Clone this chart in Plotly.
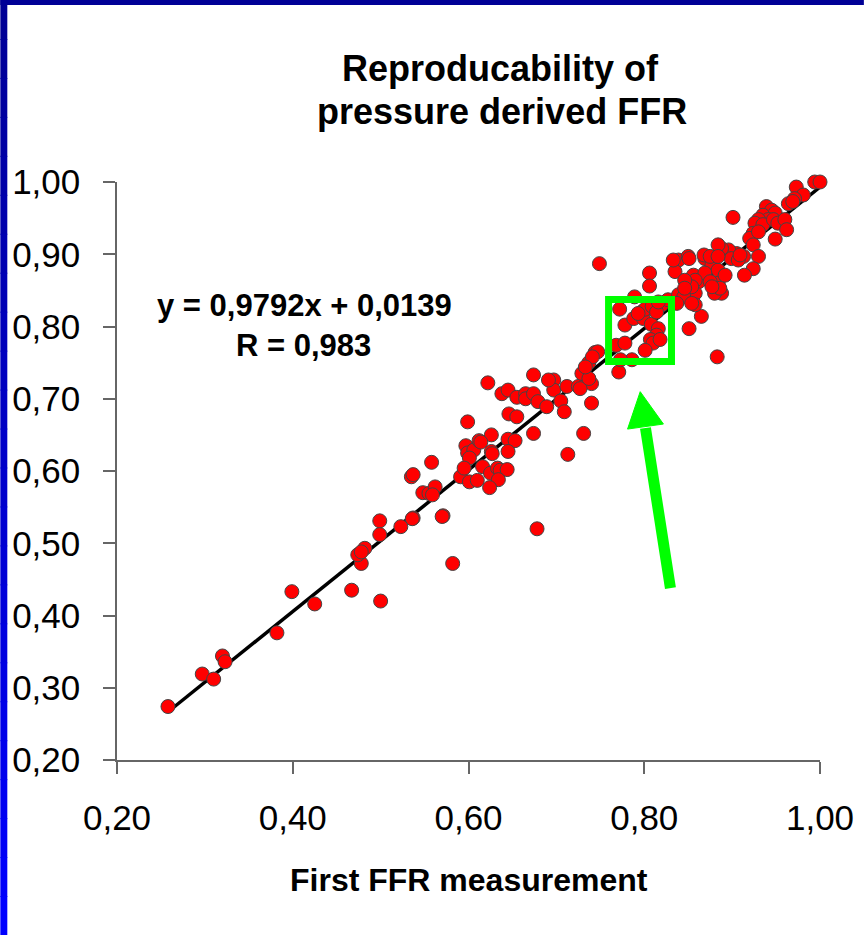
import plotly.graph_objects as go

# ---------------- data ----------------
first_ffr = [
    0.258, 0.297, 0.310, 0.320, 0.323, 0.382, 0.399, 0.425, 0.467, 0.500,
    0.478, 0.474, 0.482, 0.478, 0.499, 0.499, 0.523, 0.537, 0.571, 0.582,
    0.678, 0.535, 0.537, 0.558, 0.548, 0.555, 0.562, 0.559, 0.591, 0.599,
    0.597, 0.599, 0.606, 0.612, 0.601, 0.595, 0.601, 0.610, 0.616, 0.626,
    0.626, 0.625, 0.633, 0.636, 0.644, 0.634, 0.624, 0.645, 0.653, 0.645,
    0.646, 0.655, 0.674, 0.622, 0.638, 0.645, 0.655, 0.665, 0.665, 0.674,
    0.679, 0.674, 0.689, 0.697, 0.697, 0.705, 0.709, 0.712, 0.731, 0.713,
    0.725, 0.740, 0.740, 0.729, 0.737, 0.744, 0.747, 0.771, 0.768, 0.778,
    0.614, 0.627, 0.570, 0.536, 0.691, 0.727, 0.737,
    0.749, 0.806, 0.806, 0.789, 0.772, 0.778, 0.788, 0.797, 0.799, 0.801,
    0.808, 0.816, 0.814, 0.807, 0.810, 0.818, 0.801, 0.820, 0.827, 0.839,
    0.786, 0.773, 0.741, 0.733, 0.851, 0.865, 0.883, 0.839, 0.850, 0.835,
    0.856, 0.862, 0.850, 0.858, 0.845, 0.837, 0.858, 0.869, 0.877, 0.884,
    0.884, 0.892, 0.888, 0.880, 0.869, 0.875, 0.809, 0.814, 0.816, 0.793,
    0.994, 1.000, 0.973, 0.981, 0.971, 0.964, 0.969, 0.901, 0.939, 0.945,
    0.949, 0.935, 0.941, 0.930, 0.926, 0.935, 0.947, 0.952, 0.960, 0.962,
    0.949, 0.924, 0.920, 0.930, 0.924, 0.930, 0.924, 0.914, 0.913, 0.905,
    0.896, 0.888, 0.884, 0.899, 0.907, 0.851, 0.868, 0.875, 0.884, 0.886,
    0.877, 0.858, 0.854, 0.846, 0.854, 0.846, 0.833, 0.909,
]
second_ffr = [
    0.274, 0.319, 0.312, 0.344, 0.336, 0.376, 0.433, 0.416, 0.435, 0.420,
    0.472, 0.484, 0.493, 0.488, 0.531, 0.512, 0.523, 0.535, 0.538, 0.472,
    0.520, 0.592, 0.595, 0.612, 0.570, 0.569, 0.578, 0.567, 0.592, 0.668,
    0.635, 0.625, 0.629, 0.642, 0.618, 0.604, 0.585, 0.587, 0.606, 0.650,
    0.627, 0.597, 0.604, 0.601, 0.602, 0.588, 0.577, 0.644, 0.642, 0.627,
    0.679, 0.675, 0.652, 0.722, 0.707, 0.712, 0.702, 0.707, 0.700, 0.707,
    0.696, 0.733, 0.689, 0.726, 0.712, 0.697, 0.682, 0.717, 0.652, 0.623,
    0.717, 0.721, 0.694, 0.735, 0.750, 0.764, 0.765, 0.737, 0.774, 0.777,
    0.640, 0.624, 0.537, 0.534, 0.726, 0.714, 0.728,
    0.887, 0.874, 0.856, 0.841, 0.824, 0.802, 0.811, 0.820, 0.811, 0.824,
    0.803, 0.797, 0.788, 0.782, 0.777, 0.782, 0.767, 0.830, 0.837, 0.844,
    0.754, 0.754, 0.758, 0.744, 0.797, 0.814, 0.758, 0.892, 0.897, 0.876,
    0.871, 0.862, 0.860, 0.846, 0.841, 0.832, 0.830, 0.894, 0.885, 0.878,
    0.860, 0.871, 0.846, 0.846, 0.874, 0.862, 0.828, 0.820, 0.834, 0.818,
    1.000, 1.000, 0.993, 0.982, 0.977, 0.970, 0.973, 0.951, 0.966, 0.961,
    0.957, 0.954, 0.948, 0.948, 0.943, 0.941, 0.948, 0.943, 0.948, 0.934,
    0.921, 0.929, 0.922, 0.931, 0.913, 0.897, 0.880, 0.871, 0.897, 0.901,
    0.906, 0.908, 0.913, 0.894, 0.892, 0.894, 0.899, 0.897, 0.897, 0.853,
    0.855, 0.864, 0.855, 0.864, 0.832, 0.853, 0.892, 0.899,
]

slope = 0.9792
intercept = 0.0139
fit_x = [0.26, 1.00]
fit_y = [slope * v + intercept for v in fit_x]

x_ticks = [0.2, 0.4, 0.6, 0.8, 1.0]
x_tick_labels = ["0,20", "0,40", "0,60", "0,80", "1,00"]
y_ticks = [0.2, 0.3, 0.4, 0.5, 0.6, 0.7, 0.8, 0.9, 1.0]
y_tick_labels = ["0,20", "0,30", "0,40", "0,50", "0,60", "0,70", "0,80", "0,90", "1,00"]

title_lines = ["Reproducability of", "pressure derived FFR"]
equation_text = "y = 0,9792x + 0,0139"
r_text = "R = 0,983"
x_title = "First FFR measurement"

# highlight box and arrow (annotation decoration, in data units)
box = dict(x0=0.7594, x1=0.8310, y0=0.7515, y1=0.8374)
arrow_tail = (0.8298, 0.438)
arrow_neck = (0.8014, 0.6595)
arrow_head = [(0.7954, 0.7098), (0.7810, 0.6580), (0.8218, 0.6650)]

# ---------------- layout geometry ----------------
W, H = 866, 935
L, R, T, B = 117, 44, 182, 175
PW, PH = W - L - R, H - T - B


def px(xp):
    return (xp - L) / PW


def py(yp):
    return (H - B - yp) / PH


FONT = "Liberation Sans, Arial, sans-serif"

fig = go.Figure()
fig.add_trace(go.Scatter(
    x=fit_x, y=fit_y, mode="lines",
    line=dict(color="black", width=3.5), hoverinfo="skip", showlegend=False,
))
fig.add_trace(go.Scatter(
    x=first_ffr, y=second_ffr, mode="markers",
    marker=dict(size=14, color="#FF0000", line=dict(color="#444444", width=1)),
    cliponaxis=False, showlegend=False,
))

shapes = []
# blue slide border (left gradient and top strip)
n_seg = 24
for i in range(n_seg):
    t = i / (n_seg - 1)
    b = int(150 + (255 - 150) * t)
    shapes.append(dict(
        type="rect", xref="paper", yref="paper",
        x0=px(0), x1=px(7), y0=py(H * (i + 1) / n_seg + 1), y1=py(H * i / n_seg),
        fillcolor=f"rgb(0,0,{b})", line=dict(width=0), layer="above",
    ))
shapes.append(dict(
    type="rect", xref="paper", yref="paper",
    x0=px(0), x1=px(W), y0=py(5), y1=py(0),
    fillcolor="rgb(0,0,150)", line=dict(width=0), layer="above",
))
# green highlight box
shapes.append(dict(
    type="rect", xref="x", yref="y", **box,
    line=dict(color="#00FF00", width=7), fillcolor="rgba(0,0,0,0)", layer="above",
))
# green arrow shaft and head
shapes.append(dict(
    type="line", xref="x", yref="y",
    x0=arrow_tail[0], y0=arrow_tail[1], x1=arrow_neck[0], y1=arrow_neck[1],
    line=dict(color="#00FF00", width=11), layer="above",
))
head_path = "M {} {} L {} {} L {} {} Z".format(
    arrow_head[0][0], arrow_head[0][1], arrow_head[1][0], arrow_head[1][1],
    arrow_head[2][0], arrow_head[2][1])
shapes.append(dict(
    type="path", xref="x", yref="y", path=head_path,
    fillcolor="#00FF00", line=dict(color="#00FF00", width=1), layer="above",
))

annotations = [
    dict(text=f"<b>{title_lines[0]}</b>", x=px(502), y=py(68)),
    dict(text=f"<b>{title_lines[1]}</b>", x=px(503), y=py(112)),
    dict(text=f"<b>{equation_text}</b>", x=px(305), y=py(305), size=31),
    dict(text=f"<b>{r_text}</b>", x=px(304), y=py(345), size=31),
    dict(text=f"<b>{x_title}</b>", x=px(470), y=py(880), size=32),
]
ann_list = []
for a in annotations:
    size = a.pop("size", 36)
    ann_list.append(dict(
        xref="paper", yref="paper", xanchor="center", yanchor="middle",
        showarrow=False, font=dict(family=FONT, size=size, color="black"), **a,
    ))

axis_common = dict(
    showline=True, linecolor="#666666", linewidth=1.5,
    ticks="outside", ticklen=12, tickwidth=1.5, tickcolor="#666666",
    showgrid=False, zeroline=False,
    tickfont=dict(family=FONT, size=35, color="black"),
    tickmode="array",
)

fig.update_layout(
    width=W, height=H,
    margin=dict(l=L, r=R, t=T, b=B, pad=0),
    paper_bgcolor="white", plot_bgcolor="white",
    xaxis=dict(range=[0.2, 1.0], tickvals=x_ticks, ticktext=x_tick_labels,
               ticklabelstandoff=14, **axis_common),
    yaxis=dict(range=[0.2, 1.0], tickvals=y_ticks, ticktext=y_tick_labels,
               ticklabelstandoff=16, **axis_common),
    shapes=shapes, annotations=ann_list, showlegend=False,
)

fig.write_html(
    "out.html",
    config={"displayModeBar": False},
    post_script="document.body.style.margin='0';document.body.style.padding='0';",
)
